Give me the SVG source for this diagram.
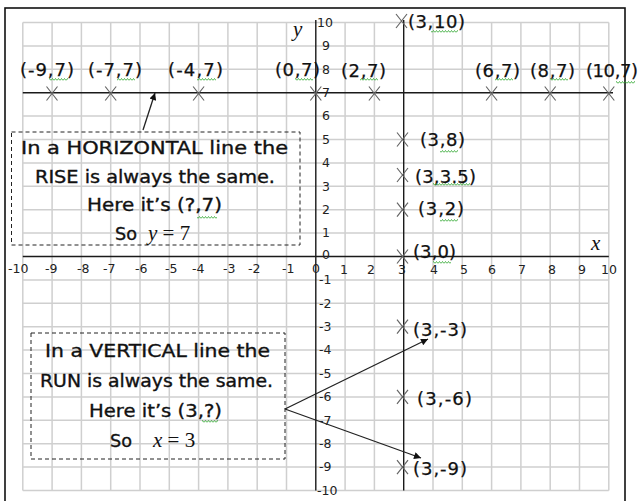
<svg xmlns="http://www.w3.org/2000/svg" xmlns:xlink="http://www.w3.org/1999/xlink" width="638" height="501" viewBox="0 0 638 501">
<style>
.grid{stroke:#cfcfcf;stroke-width:1.5;fill:none}
.axis{stroke:#1a1a1a;stroke-width:1.4;fill:none}
.tick{font-family:"DejaVu Sans",Verdana,sans-serif;font-size:12.5px;fill:#222}
.lbl{font-family:"DejaVu Sans",Verdana,sans-serif;font-size:18px;fill:#111;stroke:#111;stroke-width:0.25}
.box{fill:none;stroke:#222;stroke-width:1;stroke-dasharray:4 3}
.bt{font-family:"DejaVu Sans",sans-serif;font-size:17.5px;fill:#111;stroke:#111;stroke-width:0.35}
.math{font-family:"Liberation Serif",serif;font-size:21px;fill:#111}
.conn{stroke:#222;stroke-width:1.3;fill:none;marker-end:url(#ah)}
.xm{stroke:#666;stroke-width:1.2;fill:none}
</style>
<defs>
<path id="xm" class="xm" d="M-5.5,-7L5.5,7M-5.5,7L5.5,-7"/>
<pattern id="sq" width="3" height="3" patternUnits="userSpaceOnUse"><path d="M0 2.5L1.5 0.5L3 2.5" fill="none" stroke="#2aa52a" stroke-width="0.8"/></pattern>
<marker id="ah" viewBox="0 0 10 10" refX="10" refY="5" markerUnits="userSpaceOnUse" markerWidth="10" markerHeight="7" orient="auto"><path d="M0,0L10,5L0,10z" fill="#111"/></marker>
</defs>
<rect width="638" height="501" fill="#fff"/>
<rect x="5" y="8" width="620" height="510" fill="none" stroke="#111" stroke-width="1.6"/>
<g id="grid">
<path class="grid" d="M22.8 22.5V490.5M52.1 22.5V490.5M81.4 22.5V490.5M110.7 22.5V490.5M140 22.5V490.5M169.3 22.5V490.5M198.6 22.5V490.5M227.9 22.5V490.5M257.2 22.5V490.5M286.5 22.5V490.5M345.1 22.5V490.5M374.4 22.5V490.5M433 22.5V490.5M462.3 22.5V490.5M491.6 22.5V490.5M520.9 22.5V490.5M550.2 22.5V490.5M579.5 22.5V490.5M608.8 22.5V490.5"/>
<path class="grid" d="M22.8 22.5H608.8M22.8 45.9H608.8M22.8 69.3H608.8M22.8 116.1H608.8M22.8 139.5H608.8M22.8 162.9H608.8M22.8 186.3H608.8M22.8 209.7H608.8M22.8 233.1H608.8M22.8 279.9H608.8M22.8 303.3H608.8M22.8 326.7H608.8M22.8 350.1H608.8M22.8 373.5H608.8M22.8 396.9H608.8M22.8 420.3H608.8M22.8 443.7H608.8M22.8 467.1H608.8M22.8 490.5H608.8"/>
</g>
<g id="axes">
<path class="axis" d="M22.8 256.5H608.8M315.8 20V490.5"/>
<text x="293" y="36" class="math" font-size="16" font-style="italic">y</text>
<text x="591" y="250" class="math" font-size="16" font-style="italic">x</text>
</g>
<g id="x-ticks" class="tick">
<text x="8" y="273">-10</text><text x="45" y="273">-9</text><text x="77" y="273">-8</text><text x="103" y="273">-7</text><text x="135" y="273">-6</text><text x="165" y="273">-5</text><text x="192" y="273">-4</text><text x="223" y="273">-3</text><text x="248" y="273">-2</text><text x="282" y="273">-1</text><text x="312" y="273">0</text><text x="340" y="274">1</text><text x="367" y="274">2</text><text x="398" y="274">3</text><text x="430" y="274">4</text><text x="460" y="274">5</text><text x="488" y="274">6</text><text x="518" y="274">7</text><text x="548" y="274">8</text><text x="578" y="274">9</text><text x="601" y="274">10</text>
</g>
<g id="y-ticks" class="tick">
<text x="317" y="27">10</text><text x="322" y="50.2">9</text><text x="322" y="73.6">8</text><text x="322" y="97">7</text><text x="322" y="120.4">6</text><text x="322" y="143.8">5</text><text x="322" y="167.2">4</text><text x="322" y="190.6">3</text><text x="322" y="214">2</text><text x="322" y="237.4">1</text><text x="322" y="259">0</text><text x="319" y="284.2">-1</text><text x="319" y="307.6">-2</text><text x="319" y="331">-3</text><text x="319" y="354.4">-4</text><text x="319" y="377.8">-5</text><text x="319" y="401.2">-6</text><text x="319" y="424.6">-7</text><text x="319" y="448">-8</text><text x="319" y="471.4">-9</text><text x="317" y="494.8">-10</text>
</g>
<g id="lines">
<path class="axis" d="M22.8 92.7H613"/>
<path class="axis" d="M403.7 20V490.5"/>
</g>
<g id="pt-m9-7"><use href="#xm" x="52" y="93.5"/><text class="lbl" x="20" y="76" textLength="54">(-9,7)</text><rect x="49" y="78" width="19" height="3" fill="url(#sq)"/></g>
<g id="pt-m7-7"><use href="#xm" x="110.7" y="93.5"/><text class="lbl" x="88" y="76" textLength="54">(-7,7)</text><rect x="117" y="78" width="18" height="3" fill="url(#sq)"/></g>
<g id="pt-m4-7"><use href="#xm" x="198.6" y="93.5"/><text class="lbl" x="168" y="76" textLength="55">(-4,7)</text><rect x="197" y="78" width="19" height="3" fill="url(#sq)"/></g>
<g id="pt-0-7"><use href="#xm" x="315.8" y="93.5"/><text class="lbl" x="275" y="76" textLength="45">(0,7)</text><rect x="295" y="78" width="18" height="3" fill="url(#sq)"/></g>
<g id="pt-2-7"><use href="#xm" x="374.4" y="93.5"/><text class="lbl" x="341" y="77" textLength="45">(2,7)</text><rect x="360" y="78" width="18" height="3" fill="url(#sq)"/></g>
<g id="pt-6-7"><use href="#xm" x="491.6" y="93.5"/><text class="lbl" x="475" y="77" textLength="45">(6,7)</text><rect x="495" y="78" width="18" height="3" fill="url(#sq)"/></g>
<g id="pt-8-7"><use href="#xm" x="550.2" y="93.5"/><text class="lbl" x="530" y="77" textLength="45">(8,7)</text><rect x="550" y="78" width="18" height="3" fill="url(#sq)"/></g>
<g id="pt-10-7"><use href="#xm" x="608.8" y="93.5"/><text class="lbl" x="586" y="77" textLength="52">(10,7)</text><rect x="616" y="81" width="19" height="3" fill="url(#sq)"/></g>
<g id="pt-3-10"><use href="#xm" x="401.5" y="21"/><text class="lbl" x="408" y="28" textLength="57">(3,10)</text><rect x="431" y="30" width="27" height="3" fill="url(#sq)"/></g>
<g id="pt-3-8"><use href="#xm" x="402.5" y="139.5"/><text class="lbl" x="420" y="146" textLength="45">(3,8)</text><rect x="440" y="150" width="18" height="3" fill="url(#sq)"/></g>
<g id="pt-3-3.5"><use href="#xm" x="402.5" y="175"/><text class="lbl" x="415" y="183" textLength="61">(3,3.5)</text><rect x="433" y="183" width="37" height="3" fill="url(#sq)"/></g>
<g id="pt-3-2"><use href="#xm" x="402.5" y="209.7"/><text class="lbl" x="418" y="215" textLength="46">(3,2)</text><rect x="440" y="219" width="18" height="3" fill="url(#sq)"/></g>
<g id="pt-3-0"><use href="#xm" x="402.5" y="256.5"/><text class="lbl" x="413" y="258" textLength="43">(3,0)</text><rect x="433" y="261" width="18" height="3" fill="url(#sq)"/></g>
<g id="pt-3-m3"><use href="#xm" x="402.5" y="326.7"/><text class="lbl" x="413" y="336" textLength="54">(3,-3)</text></g>
<g id="pt-3-m6"><use href="#xm" x="402.5" y="396.9"/><text class="lbl" x="417" y="405" textLength="55">(3,-6)</text></g>
<g id="pt-3-m9"><use href="#xm" x="402.5" y="467.1"/><text class="lbl" x="413" y="475" textLength="54">(3,-9)</text></g>
<g id="box-horizontal">
<rect class="box" x="11.5" y="132" width="288.5" height="113"/>
<text class="bt" x="21" y="154" textLength="267" lengthAdjust="spacingAndGlyphs">In a HORIZONTAL line the</text>
<text class="bt" x="35" y="183" textLength="240" lengthAdjust="spacingAndGlyphs">RISE is always the same.</text>
<text class="bt" x="87" y="211" textLength="135" lengthAdjust="spacingAndGlyphs">Here it’s (?,7)</text>
<rect x="197" y="216" width="20" height="3" fill="url(#sq)"/>
<text class="bt" x="115" y="240" textLength="22" lengthAdjust="spacingAndGlyphs">So</text>
<text class="math" x="148" y="240"><tspan font-style="italic">y</tspan> = 7</text>
</g>
<g id="box-vertical">
<rect class="box" x="31" y="333" width="254" height="126"/>
<text class="bt" x="45" y="357" textLength="225" lengthAdjust="spacingAndGlyphs">In a VERTICAL line the</text>
<text class="bt" x="40" y="387" textLength="233" lengthAdjust="spacingAndGlyphs">RUN is always the same.</text>
<text class="bt" x="89" y="417" textLength="133" lengthAdjust="spacingAndGlyphs">Here it’s (3,?)</text>
<rect x="202" y="420" width="16" height="3" fill="url(#sq)"/>
<text class="bt" x="110" y="447" textLength="22" lengthAdjust="spacingAndGlyphs">So</text>
<text class="math" x="153" y="447"><tspan font-style="italic">x</tspan> = 3</text>
</g>
<g id="connectors">
<path class="conn" d="M143 130L155 93"/>
<path class="conn" d="M285 409L428 339"/>
<path class="conn" d="M285 409L421 458"/>
</g>
</svg>
